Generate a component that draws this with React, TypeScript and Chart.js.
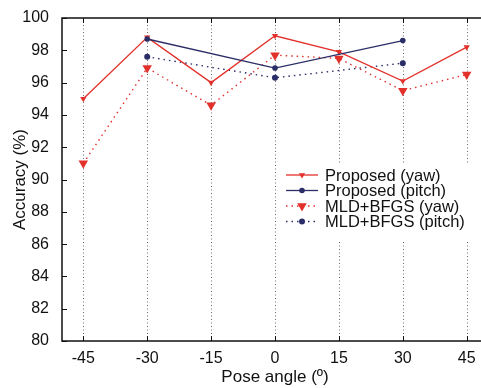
import React, { useEffect, useRef } from 'react';
import { Chart, registerables } from 'chart.js';
Chart.register(...registerables);

const poseAngles = [-45, -30, -15, 0, 15, 30, 45];
const proposedYaw = [95.0, 98.8, 96.0, 98.9, 97.9, 96.1, 98.2];
const proposedPitch = [null, 98.7, null, 96.9, null, 98.6, null];
const mldYaw = [91.0, 96.9, 94.6, 97.7, 97.5, 95.5, 96.5];
const mldPitch = [null, 97.6, null, 96.3, null, 97.2, null];
const yTickValues = [80, 82, 84, 86, 88, 90, 92, 94, 96, 98, 100];
const xTickValues = [-45, -30, -15, 0, 15, 30, 45];
const seriesLabels = ['Proposed (yaw)', 'Proposed (pitch)', 'MLD+BFGS (yaw)', 'MLD+BFGS (pitch)'];

const RED = '#e2312b';
const NAVY = '#2b2d66';
const FONT = "'Liberation Sans', Arial, sans-serif";

const toPoints = (arr: (number | null)[]) =>
  poseAngles.map((x, i) => ({ x, y: arr[i] })).filter((p) => p.y !== null);

const drawMarker = (ctx: CanvasRenderingContext2D, style: string, x: number, y: number, r: number, color: string) => {
  ctx.save();
  ctx.fillStyle = color;
  ctx.beginPath();
  if (style === 'tri') {
    const h = r * Math.sqrt(3) / 2;
    ctx.moveTo(x - h, y - r / 2);
    ctx.lineTo(x + h, y - r / 2);
    ctx.lineTo(x, y + r);
  } else {
    ctx.arc(x, y, r, 0, Math.PI * 2);
  }
  ctx.closePath();
  ctx.fill();
  ctx.restore();
};

const framePlugin = {
  id: 'frame',
  beforeDatasetsDraw(chart: any) {
    const { ctx, chartArea: a, scales } = chart;
    const xs = scales.x;
    const ys = scales.y;
    ctx.save();
    ctx.strokeStyle = '#6a6a6a';
    ctx.lineWidth = 1;
    ctx.setLineDash([1, 2.5]);
    xTickValues.forEach((v) => {
      const px = Math.round(xs.getPixelForValue(v)) + 0.5;
      ctx.beginPath();
      ctx.moveTo(px, a.top);
      ctx.lineTo(px, a.bottom);
      ctx.stroke();
    });
    ctx.setLineDash([]);
    ctx.strokeStyle = '#111';
    ctx.lineWidth = 1;
    yTickValues.forEach((v) => {
      const py = Math.round(ys.getPixelForValue(v)) + 0.5;
      ctx.beginPath();
      ctx.moveTo(a.left, py);
      ctx.lineTo(a.left + 5, py);
      ctx.stroke();
    });
    xTickValues.forEach((v) => {
      const px = Math.round(xs.getPixelForValue(v)) + 0.5;
      ctx.beginPath();
      ctx.moveTo(px, a.bottom);
      ctx.lineTo(px, a.bottom - 5);
      ctx.moveTo(px, a.top);
      ctx.lineTo(px, a.top + 5);
      ctx.stroke();
    });
    ctx.lineWidth = 1.5;
    ctx.beginPath();
    ctx.moveTo(a.right, a.top);
    ctx.lineTo(a.left, a.top);
    ctx.lineTo(a.left, a.bottom);
    ctx.lineTo(a.right, a.bottom);
    ctx.lineTo(a.right, a.top);
    ctx.stroke();
    ctx.restore();
  },
};

const legendPlugin = {
  id: 'customLegend',
  afterDatasetsDraw(chart: any) {
    const { ctx } = chart;
    ctx.save();
    ctx.fillStyle = '#fff';
    ctx.fillRect(278, 163, 205, 79);
    const rows = [175, 190.5, 206, 221.5];
    chart.data.datasets.forEach((ds: any, i: number) => {
      const y = rows[i];
      ctx.strokeStyle = ds.borderColor;
      ctx.lineWidth = ds.borderWidth;
      ctx.setLineDash(ds.borderDash || []);
      ctx.beginPath();
      ctx.moveTo(286, y);
      ctx.lineTo(318, y);
      ctx.stroke();
      ctx.setLineDash([]);
      drawMarker(ctx, ds.pointStyle === 'triangle' ? 'tri' : 'circle', 302, y, ds.pointRadius, ds.pointBackgroundColor);
      ctx.fillStyle = '#111';
      ctx.font = `16.5px ${FONT}`;
      ctx.textBaseline = 'middle';
      ctx.textAlign = 'left';
      ctx.fillText(ds.label, 325, y + 1);
    });
    ctx.restore();
  },
};

export default function App() {
  const ref = useRef<HTMLCanvasElement | null>(null);
  useEffect(() => {
    if (!ref.current) return;
    const chart = new Chart(ref.current, {
      type: 'line',
      data: {
        datasets: [
          {
            label: seriesLabels[0],
            data: toPoints(proposedYaw),
            borderColor: RED,
            backgroundColor: RED,
            pointBackgroundColor: RED,
            pointBorderWidth: 0,
            borderWidth: 1.3,
            pointStyle: 'triangle',
            rotation: 180,
            pointRadius: 3.6,
            order: 1,
          },
          {
            label: seriesLabels[1],
            data: toPoints(proposedPitch),
            borderColor: NAVY,
            backgroundColor: NAVY,
            pointBackgroundColor: NAVY,
            pointBorderWidth: 0,
            borderWidth: 1.3,
            pointStyle: 'circle',
            pointRadius: 2.8,
            order: 0,
          },
          {
            label: seriesLabels[2],
            data: toPoints(mldYaw),
            borderColor: RED,
            backgroundColor: RED,
            pointBackgroundColor: RED,
            pointBorderWidth: 0,
            borderWidth: 1.4,
            borderDash: [1.5, 4],
            pointStyle: 'triangle',
            rotation: 180,
            pointRadius: 5.5,
            order: 2,
          },
          {
            label: seriesLabels[3],
            data: toPoints(mldPitch),
            borderColor: NAVY,
            backgroundColor: NAVY,
            pointBackgroundColor: NAVY,
            pointBorderWidth: 0,
            borderWidth: 1.4,
            borderDash: [1.5, 4],
            pointStyle: 'circle',
            pointRadius: 3,
            order: 3,
          },
        ] as any,
      },
      options: {
        animation: false,
        responsive: false,
        layout: { padding: { top: 18, right: 12, left: 0, bottom: 0 } },
        plugins: { legend: { display: false }, tooltip: { enabled: false } },
        scales: {
          x: {
            type: 'linear',
            min: -50,
            max: 50,
            afterBuildTicks: (s: any) => {
              s.ticks = xTickValues.map((v) => ({ value: v }));
            },
            afterFit: (s: any) => {
              s.height = 47;
            },
            grid: { display: false },
            border: { display: false },
            ticks: {
              color: '#111',
              font: { family: FONT, size: 16 },
              padding: 0,
              maxRotation: 0,
              autoSkip: false,
            },
            title: {
              display: true,
              text: 'Pose angle (º)',
              color: '#111',
              font: { family: FONT, size: 17 },
              padding: { top: 0, bottom: 0 },
            },
          },
          y: {
            min: 80,
            max: 100,
            afterBuildTicks: (s: any) => {
              s.ticks = yTickValues.map((v) => ({ value: v }));
            },
            afterFit: (s: any) => {
              s.width = 62;
            },
            grid: { display: false },
            border: { display: false },
            ticks: {
              color: '#111',
              font: { family: FONT, size: 16 },
              padding: 5,
            },
            title: {
              display: true,
              text: 'Accuracy (%)',
              color: '#111',
              font: { family: FONT, size: 17 },
              padding: { top: 10, bottom: 0 },
            },
          },
        },
      },
      plugins: [framePlugin, legendPlugin],
    } as any);
    return () => chart.destroy();
  }, []);
  return (
    <div style={{ position: 'fixed', left: 0, top: 0, width: 481, height: 388, overflow: 'hidden', background: '#fff' }}>
      <canvas ref={ref} width={500} height={388} style={{ display: 'block' }} />
    </div>
  );
}
